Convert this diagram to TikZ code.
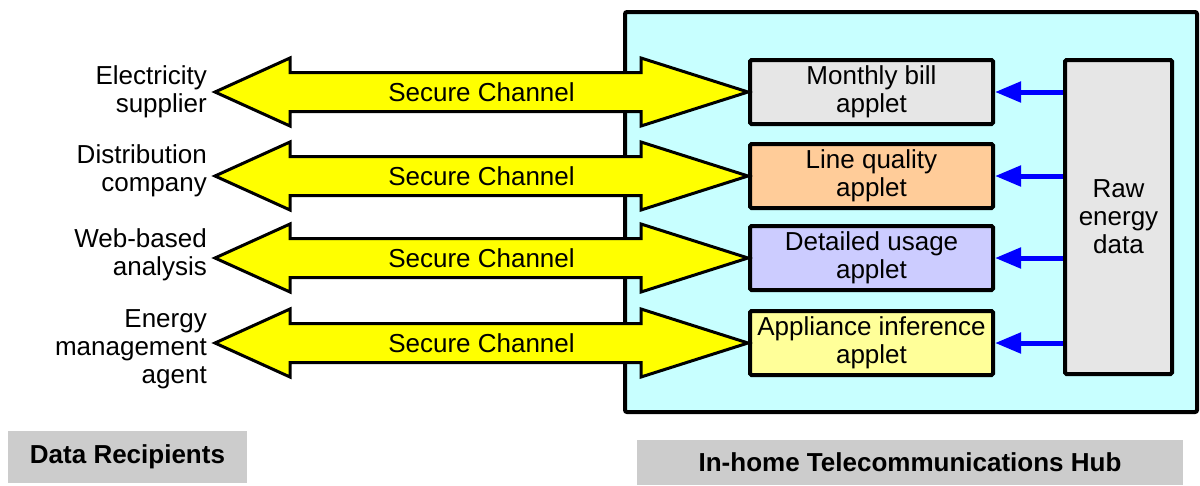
\documentclass[tikz,border=0pt]{standalone}
\usepackage{fontspec}
\setmainfont{Liberation Sans}
\usetikzlibrary{arrows.meta,calc}
\definecolor{hubfill}{HTML}{C8FFFF}
\definecolor{grayfill}{HTML}{E6E6E6}
\definecolor{orangefill}{HTML}{FFCC99}
\definecolor{lavfill}{HTML}{CCCCFF}
\definecolor{lyellow}{HTML}{FFFF99}
\definecolor{chanyellow}{HTML}{FFFF00}
\definecolor{tagfill}{HTML}{CCCCCC}
\tikzset{
  txt/.style={font=\fontsize{26}{28}\selectfont, inner sep=0pt},
  applet/.style={draw=black, line width=4pt, rounded corners=1.5pt, minimum width=243pt, minimum height=64pt, inner sep=0pt, align=center, txt},
  recip/.style={txt, align=right, anchor=east},
  feed/.style={draw=blue, line width=5pt, -{Triangle[length=26pt,width=20pt]}},
  chan/.style={draw=black, line width=3pt, fill=chanyellow, line join=miter},
  tag/.style={fill=tagfill, inner sep=0pt, font=\fontsize{26}{30}\selectfont\bfseries}
}
\begin{document}
\begin{tikzpicture}[x=1pt,y=-1pt]
\useasboundingbox (0,0) rectangle (1200,485);
% hub
\draw[line width=4pt, fill=hubfill, rounded corners=2pt] (625,12) rectangle (1197,412);
% applets
\node[applet, fill=grayfill] (mb) at (871.5,92) {Monthly bill\\applet};
\node[applet, fill=orangefill] (lq) at (871.5,176) {Line quality\\applet};
\node[applet, fill=lavfill] (du) at (871.5,258) {Detailed usage\\applet};
\node[applet, fill=lyellow] (ai) at (871.5,343) {Appliance inference\\applet};
% raw data
\node[draw=black, line width=4pt, rounded corners=1.5pt, fill=grayfill, minimum width=107pt, minimum height=314pt, inner sep=0pt, align=center, txt] (raw) at (1118.5,217) {Raw\\energy\\data};
% feeds
\foreach \b in {mb,lq,du,ai}{
  \draw[feed] (raw.west |- \b.east) -- (\b.east);
}
% recipients
\node[recip] (r1) at (207,92) {Electricity\\supplier};
\node[recip] (r2) at (207,171) {Distribution\\company};
\node[recip] (r3) at (207,255) {Web-based\\analysis};
\node[recip] (r4) at (207,349) {Energy\\management\\agent};
% channels
\foreach \b/\y in {mb/92,lq/176,du/258,ai/343}{
  \coordinate (L) at (215,\y);
  \coordinate (R) at (\b.west);
  \draw[chan] (L) -- ($(L)+(75,-34)$) -- ($(L)+(75,-19.5)$) -- ($(R)+(-107,-19.5)$) -- ($(R)+(-107,-34)$) -- (R)
     -- ($(R)+(-107,34)$) -- ($(R)+(-107,19.5)$) -- ($(L)+(75,19.5)$) -- ($(L)+(75,34)$) -- cycle;
  \node[txt] at ($(L)!0.5!(R)$) {Secure Channel};
}
% tags
\node[tag, minimum width=239pt, minimum height=52pt] (t1) at (127.5,457) {Data Recipients};
\node[tag, minimum width=546pt, minimum height=45pt] (t2) at (910,462.5) {In-home Telecommunications Hub};
\end{tikzpicture}
\end{document}
